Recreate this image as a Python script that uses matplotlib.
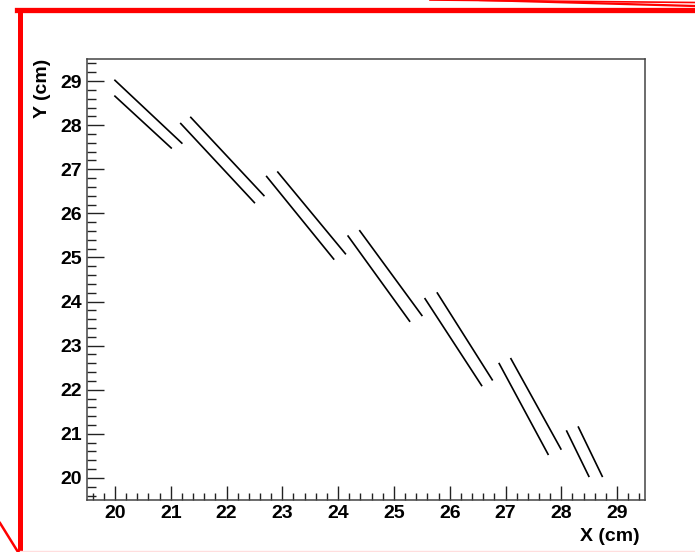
import numpy as np
import matplotlib
matplotlib.use("Agg")
import matplotlib.pyplot as plt
from matplotlib.lines import Line2D
from matplotlib.ticker import MultipleLocator

# track segments: start (x0, y0) -> end (x1, y1), in cm
seg_x0 = [19.99, 19.99, 21.35, 21.17, 22.91, 22.71, 24.38, 24.17, 25.77, 25.55, 27.09, 26.88, 28.30, 28.09]
seg_y0 = [29.03, 28.67, 28.19, 28.05, 26.95, 26.85, 25.62, 25.50, 24.21, 24.08, 22.72, 22.61, 21.17, 21.08]
seg_x1 = [21.21, 21.02, 22.68, 22.51, 24.14, 23.93, 25.51, 25.29, 26.77, 26.58, 28.00, 27.77, 28.74, 28.50]
seg_y1 = [27.58, 27.47, 26.39, 26.23, 25.07, 24.95, 23.67, 23.54, 22.21, 22.08, 20.64, 20.52, 20.02, 20.02]

x_ticks = [20, 21, 22, 23, 24, 25, 26, 27, 28, 29]
y_ticks = [20, 21, 22, 23, 24, 25, 26, 27, 28, 29]

plt.rcParams['font.family'] = ['Liberation Sans', 'DejaVu Sans']
plt.rcParams['font.weight'] = 'bold'

W, H = 695, 552
fig = plt.figure(figsize=(W / 100, H / 100), dpi=100)
fig.patch.set_facecolor('white')

ax = fig.add_axes([87 / W, 1 - 500 / H, 558 / W, 441 / H])

for i in range(len(seg_x0)):
    ax.plot([seg_x0[i], seg_x1[i]], [seg_y0[i], seg_y1[i]], color='black', lw=1.2,
            solid_capstyle='butt')

ax.set_xlim(19.5, 29.5)
ax.set_ylim(19.5, 29.5)
ax.set_xticks(x_ticks)
ax.set_yticks(y_ticks)
ax.xaxis.set_minor_locator(MultipleLocator(0.2))
ax.yaxis.set_minor_locator(MultipleLocator(0.2))

ax.tick_params(axis='both', which='both', direction='in', top=False, right=False,
               colors='#222222', labelcolor='black', labelsize=14, pad=3.5)
ax.tick_params(axis='x', which='major', length=10, width=1.0)
ax.tick_params(axis='x', which='minor', length=5, width=1.0)
ax.tick_params(axis='y', which='major', length=12, width=1.0)
ax.tick_params(axis='y', which='minor', length=6.5, width=1.0)
for lab in ax.get_xticklabels() + ax.get_yticklabels():
    lab.set_fontweight('bold')

for sp in ax.spines.values():
    sp.set_color('#444444')
    sp.set_linewidth(1.1)

ax.set_xlabel('X (cm)', fontsize=14, fontweight='bold', loc='right')
ax.xaxis.set_label_coords(0.99, -0.064)
ax.set_ylabel('Y (cm)', fontsize=14, fontweight='bold', loc='top')
ax.yaxis.set_label_coords(-0.064, 1.0)


# red screenshot frame around the plot
def px(x, y):
    return x / W, 1 - y / H


def frame_line(p0, p1, **kw):
    (xa, ya), (xb, yb) = px(*p0), px(*p1)
    fig.add_artist(Line2D([xa, xb], [ya, yb], transform=fig.transFigure, color='red', **kw))


frame_line((17, 10), (695, 10), lw=3.8)
frame_line((19.5, 10), (19.5, 552), lw=3.6)
frame_line((0, 523), (18, 552), lw=1.8)
frame_line((430, 0), (695, 2.5), lw=1.2)
frame_line((480, 0), (695, 6), lw=1.6)
fig.add_artist(Line2D([px(20, 551)[0], 1], [px(20, 551)[1]] * 2, transform=fig.transFigure,
                      color='#ffdede', lw=1))

fig.savefig('out.png', dpi=100)
